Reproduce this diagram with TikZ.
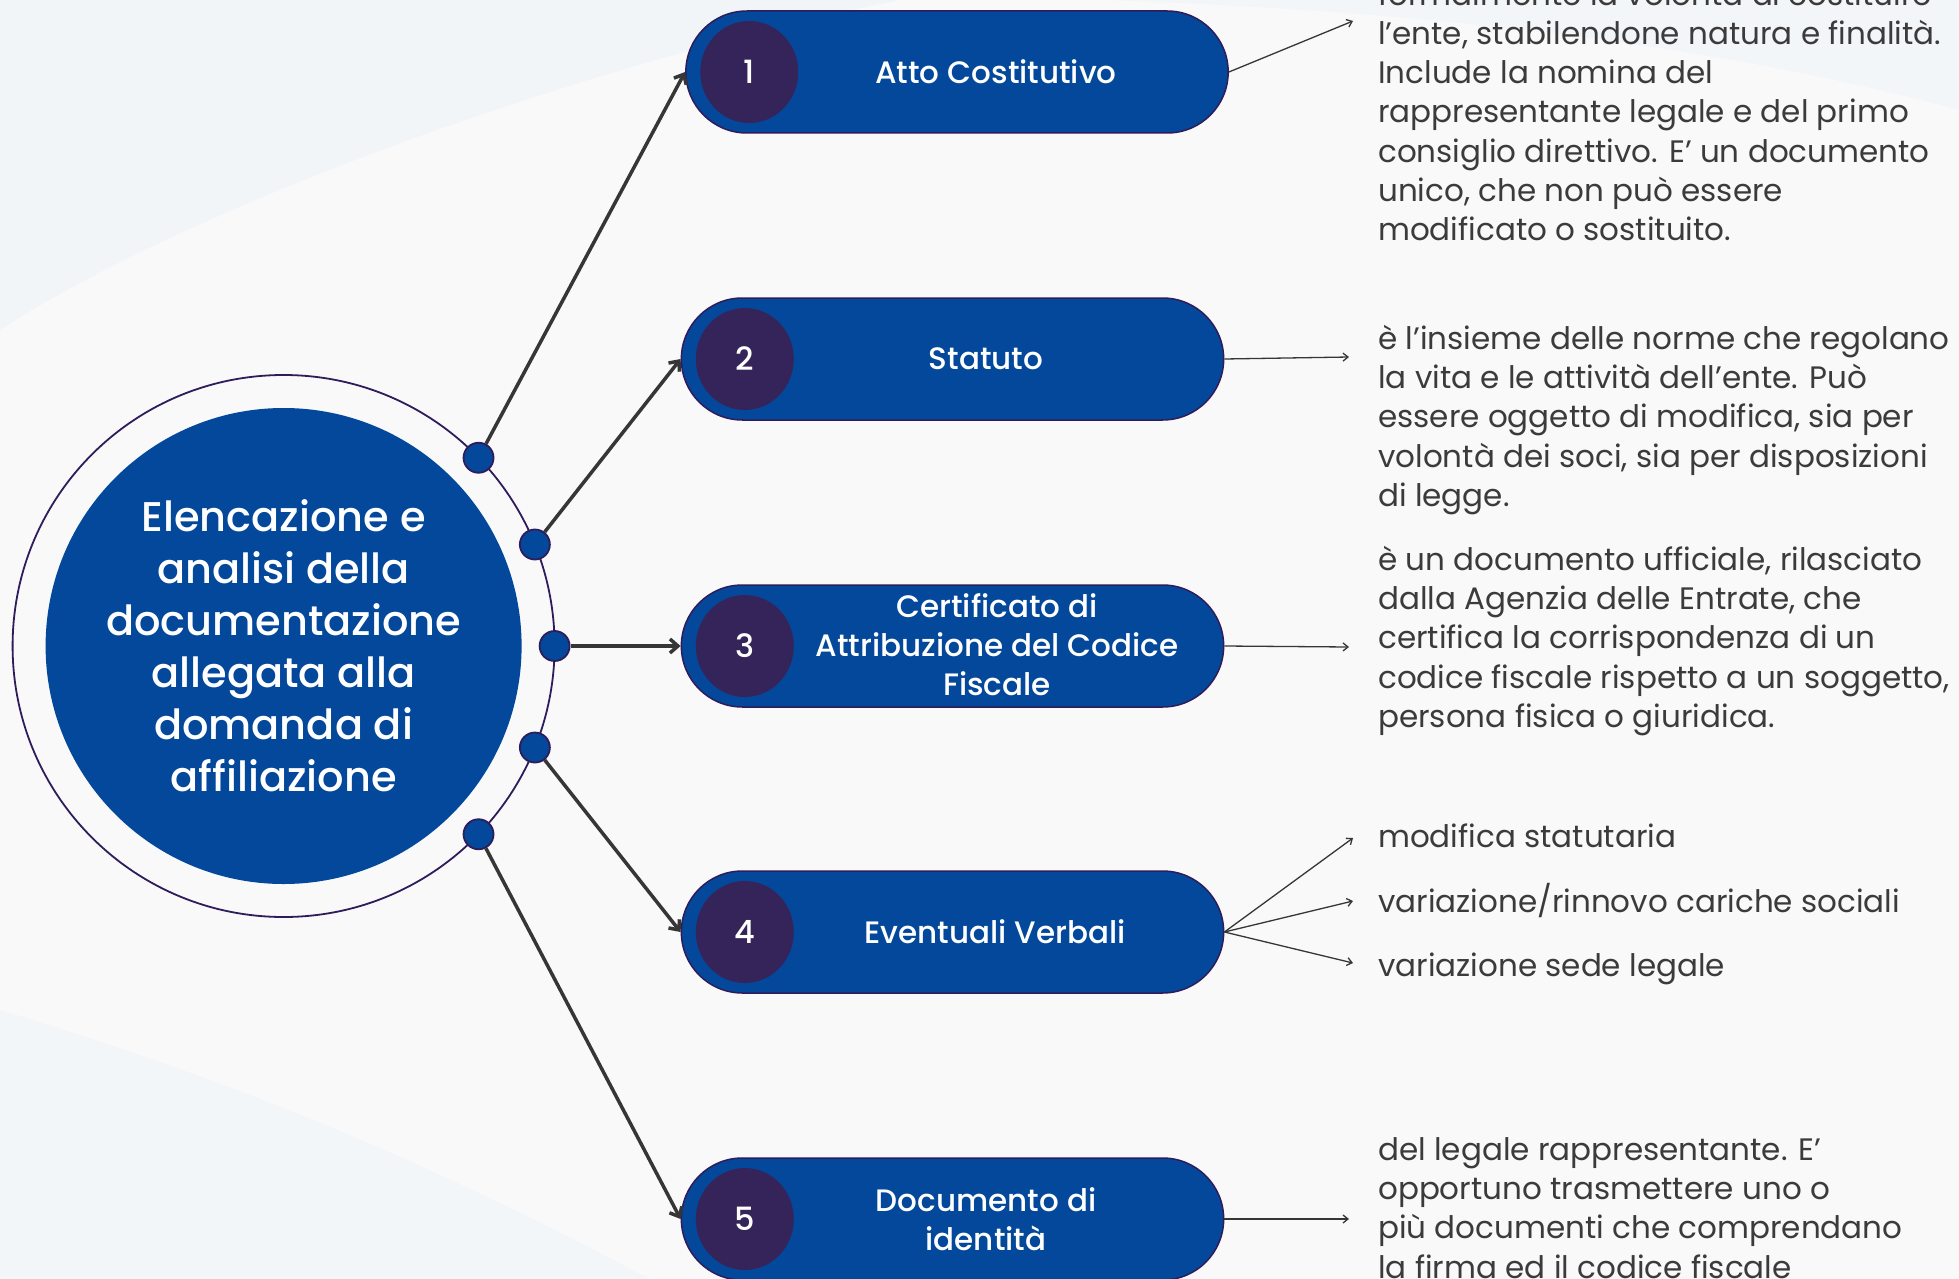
\documentclass[tikz,border=0pt]{standalone}
\usepackage{fontspec}
\setmainfont{Poppins}
\newfontfamily\medfont{Poppins Medium}
\usepackage{xcolor}
\usetikzlibrary{arrows.meta,positioning,shapes.misc,shapes.geometric}

\definecolor{docblue}{HTML}{03489A}
\definecolor{docpurple}{HTML}{2E1C5B}
\definecolor{numpurple}{HTML}{352459}
\definecolor{linegray}{HTML}{363636}
\definecolor{textgray}{HTML}{3B3B3B}
\definecolor{paper}{HTML}{F9F9FA}
\definecolor{haze}{HTML}{EAF2F7}

\begin{document}
\begin{tikzpicture}[x=1pt,y=-1pt,
    hub/.style={circle, fill=docblue, minimum size=476pt, inner sep=0pt, text=white, align=center, font=\medfont\fontsize{41.5}{52}\selectfont},
    ring/.style={circle, draw=docpurple, line width=1.8pt, minimum size=542pt, inner sep=0pt, outer sep=0pt},
    dot/.style={circle, fill=docblue, draw=docpurple, line width=1.8pt, minimum size=30pt, inner sep=0pt},
    pill/.style={rounded rectangle, fill=docblue, draw=docpurple, line width=1.5pt, minimum width=549pt, minimum height=122pt},
    numdisc/.style={ellipse, fill=numpurple, minimum width=98pt, minimum height=102pt, inner sep=0pt, text=white, font=\medfont\fontsize{32}{36}\selectfont},
    pilltext/.style={text=white, align=center, font=\medfont\fontsize{31}{39}\selectfont},
    desc/.style={anchor=west, text=textgray, align=left, inner sep=0pt, font=\fontsize{31}{39.2}\selectfont},
    conn/.style={draw=linegray, line width=3.5pt, -{Straight Barb[length=8pt,width=14pt]}},
    pointer/.style={draw=linegray, line width=1.3pt, -{Straight Barb[length=5pt,width=8pt]}}
  ]
  \useasboundingbox (0,0) rectangle (1959,1279);
  % background
  \fill[paper] (0,0) rectangle (1959,1279);
  \fill[haze, opacity=.5] (0,0) -- (900,0) .. controls (600,60) and (200,200) .. (0,330) -- cycle;
  \fill[haze, opacity=.4] (1100,0) -- (1959,0) -- (1959,110) .. controls (1700,40) and (1400,10) .. (1100,0);
  \fill[haze, opacity=.35] (0,1010) .. controls (300,1100) and (500,1200) .. (650,1279) -- (0,1279) -- cycle;

  % central circle
  \node[ring] (ring) at (283.6,646) {};
  \node[hub] (hub) at (ring.center) {Elencazione e\\analisi della\\documentazione\\allegata alla\\domanda di\\affiliazione};
  \node[dot] (d1) at (ring.44) {};
  \node[dot] (d2) at (ring.22.5) {};
  \node[dot] (d3) at (ring.0) {};
  \node[dot] (d4) at (ring.-22.5) {};
  \node[dot] (d5) at (ring.-44) {};

  % documents
  \node[pill] (b1) at (957,72) {};
  \node[numdisc, right=15pt of b1.west] (n1) {1};
  \node[pilltext] (t1) at (996,72) {Atto Costitutivo};

  \node[pill] (b2) at (952.5,359) {};
  \node[numdisc, right=15pt of b2.west] (n2) {2};
  \node[pilltext] (t2) at (986,359) {Statuto};

  \node[pill] (b3) at (952.5,646) {};
  \node[numdisc, right=15pt of b3.west] (n3) {3};
  \node[pilltext] (t3) at (997,645) {Certificato di\\Attribuzione del Codice\\Fiscale};

  \node[pill] (b4) at (952.5,932) {};
  \node[numdisc, right=15pt of b4.west] (n4) {4};
  \node[pilltext] (t4) at (995,932) {Eventuali Verbali};

  \node[pill] (b5) at (952.5,1219) {};
  \node[numdisc, right=15pt of b5.west] (n5) {5};
  \node[pilltext] (t5) at (986,1219) {Documento di\\identità};

  \draw[conn] (d1) -- (b1.west);
  \draw[conn] (d2) -- (b2.west);
  \draw[conn] (d3) -- (b3.west);
  \draw[conn] (d4) -- (b4.west);
  \draw[conn] (d5) -- (b5.west);

  % descriptions
  \node[desc] (s1) at (1378,111) {formalmente la volontà di costituire\\l’ente, stabilendone natura e finalità.\\Include la nomina del\\rappresentante legale e del primo\\consiglio direttivo. E’ un documento\\unico, che non può essere\\modificato o sostituito.};
  \node[desc] (s2) at (1378,420) {è l’insieme delle norme che regolano\\la vita e le attività dell’ente. Può\\essere oggetto di modifica, sia per\\volontà dei soci, sia per disposizioni\\di legge.};
  \node[desc] (s3) at (1378,641) {è un documento ufficiale, rilasciato\\dalla Agenzia delle Entrate, che\\certifica la corrispondenza di un\\codice fiscale rispetto a un soggetto,\\persona fisica o giuridica.};
  \node[desc] (s4a) at (1378,836) {modifica statutaria};
  \node[desc] (s4b) at (1378,901) {variazione/rinnovo cariche sociali};
  \node[desc] (s4c) at (1378,969) {variazione sede legale};
  \node[desc] (s5) at (1378,1208) {del legale rappresentante. E’\\opportuno trasmettere uno o\\più documenti che comprendano\\la firma ed il codice fiscale};

  \coordinate (e1) at (1353,21);
  \coordinate (e2) at (1349,357);
  \coordinate (e3) at (1349,647);
  \coordinate (e4a) at (1353,838);
  \coordinate (e4b) at (1353,901);
  \coordinate (e4c) at (1353,963);
  \coordinate (e5) at (1349,1219);
  \draw[pointer] (b1.east) -- (e1);
  \draw[pointer] (b2.east) -- (e2);
  \draw[pointer] (b3.east) -- (e3);
  \draw[pointer] (b4.east) -- (e4a);
  \draw[pointer] (b4.east) -- (e4b);
  \draw[pointer] (b4.east) -- (e4c);
  \draw[pointer] (b5.east) -- (e5);
\end{tikzpicture}
\end{document}
